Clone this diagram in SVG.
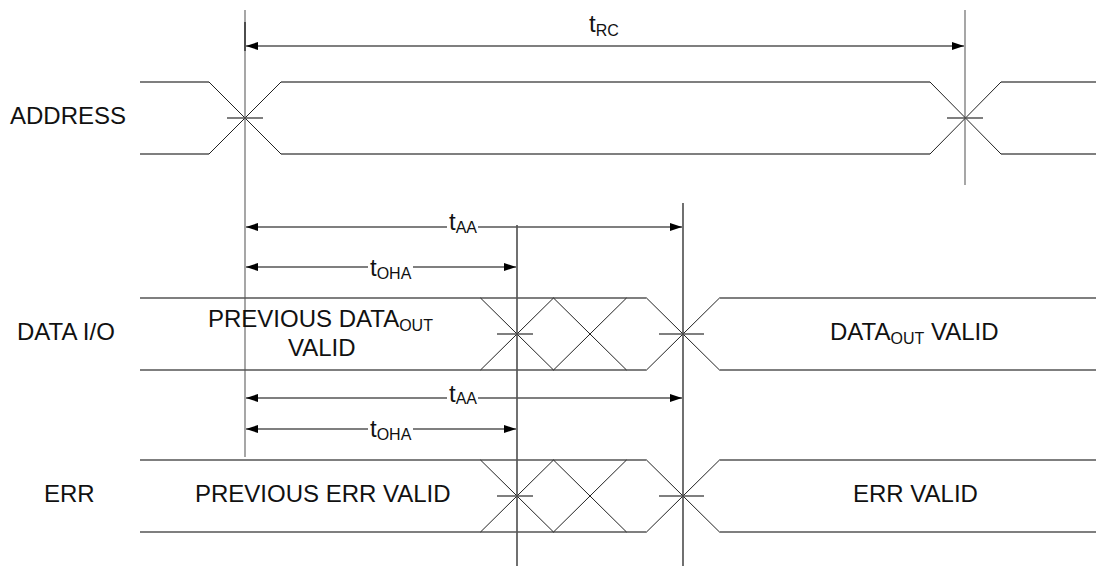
<svg xmlns="http://www.w3.org/2000/svg" width="1096" height="566" viewBox="0 0 1096 566">
<style>
.w{fill:none;stroke:#555;stroke-width:1.4}
.x{fill:none;stroke:#222;stroke-width:1}
.v{fill:none;stroke:#777;stroke-width:1.3}
.vd{fill:none;stroke:#111;stroke-width:1.2}
.tk{fill:none;stroke:#555;stroke-width:1.3}
.ar{fill:none;stroke:#555;stroke-width:1.3;marker-start:url(#ah);marker-end:url(#ah)}
text{font-family:"Liberation Sans",Arial,sans-serif;font-size:24px;fill:#111}
.s{font-size:16px}
.bg{fill:#fff}
</style>
<defs>
<marker id="ah" viewBox="0 0 12 8" refX="12" refY="4" markerWidth="12" markerHeight="8" markerUnits="userSpaceOnUse" orient="auto-start-reverse">
<path d="M0,0 L12,4 L0,8 Z" fill="#000"/>
</marker>
</defs>

<g id="connectors">
<line class="v" x1="245" y1="10" x2="245" y2="457"/>
<line class="vd" x1="245" y1="22" x2="245" y2="51"/>
<line class="v" x1="965" y1="10" x2="965" y2="185"/>
<line class="vd" x1="517" y1="225" x2="517" y2="566"/>
<line class="vd" x1="683" y1="203" x2="683" y2="566"/>
<line class="ar" x1="246" y1="46" x2="964" y2="46"/>
<line class="ar" x1="246" y1="227" x2="682" y2="227"/>
<line class="ar" x1="246" y1="267" x2="516" y2="267"/>
<line class="ar" x1="246" y1="398" x2="682" y2="398"/>
<line class="ar" x1="246" y1="429" x2="516" y2="429"/>
</g>

<g id="address">
<text x="10" y="124">ADDRESS</text>
<path class="w" d="M140,82 H209 M281,82 H930 M1001,82 H1096 M140,154 H209 M281,154 H930 M1001,154 H1096"/>
<path class="x" d="M209,82 L281,154 M209,154 L281,82 M930,82 L1001,154 M930,154 L1001,82"/>
<path class="tk" d="M227,118 H263 M947,118 H983"/>
</g>

<g id="trc">
<text x="589" y="32">t<tspan class="s" dy="4">RC</tspan></text>
</g>

<g id="taa-data">
<rect class="bg" x="447" y="218" width="31" height="14"/>
<text x="449" y="230">t<tspan class="s" dy="3">AA</tspan></text>
</g>
<g id="toha-data">
<rect class="bg" x="368" y="258" width="45" height="14"/>
<text x="370" y="276">t<tspan class="s" dy="3">OHA</tspan></text>
</g>

<g id="data-io">
<text x="17" y="340">DATA I/O</text>
<path class="w" d="M140,298 H646.5 M140,370 H646.5 M719.5,298 H1096 M719.5,370 H1096"/>
<path class="x" d="M480.5,298 L553.5,370 M480.5,370 L553.5,298 M553.5,298 L626.5,370 M553.5,370 L626.5,298 M646.5,298 L719.5,370 M646.5,370 L719.5,298"/>
<path class="tk" d="M497,334 H533 M659,334 H704"/>
<text x="208" y="327">PREVIOUS DATA<tspan class="s" dy="4">OUT</tspan></text>
<text x="288" y="356">VALID</text>
<text x="830" y="340">DATA<tspan class="s" dy="4">OUT</tspan><tspan dy="-4"> VALID</tspan></text>
</g>

<g id="taa-err">
<rect class="bg" x="447" y="389" width="31" height="14"/>
<text x="449" y="402">t<tspan class="s" dy="2">AA</tspan></text>
</g>
<g id="toha-err">
<rect class="bg" x="368" y="420" width="45" height="14"/>
<text x="370" y="437">t<tspan class="s" dy="3">OHA</tspan></text>
</g>

<g id="err">
<text x="44" y="502">ERR</text>
<path class="w" d="M140,460 H646.5 M140,532 H646.5 M719.5,460 H1096 M719.5,532 H1096"/>
<path class="x" d="M480.5,460 L553.5,532 M480.5,532 L553.5,460 M553.5,460 L626.5,532 M553.5,532 L626.5,460 M646.5,460 L719.5,532 M646.5,532 L719.5,460"/>
<path class="tk" d="M497,496 H533 M659,496 H704"/>
<text x="195" y="502">PREVIOUS ERR VALID</text>
<text x="853" y="502">ERR VALID</text>
</g>
</svg>
